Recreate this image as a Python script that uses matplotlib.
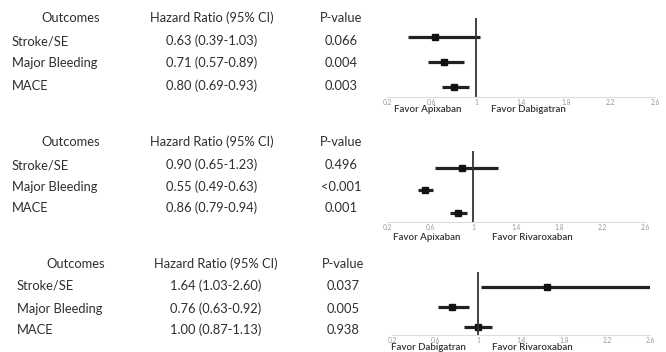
import matplotlib.pyplot as plt

plt.rcParams['font.family'] = ['Lato', 'DejaVu Sans']

# Data for the three comparisons
outcomes = ["Stroke/SE", "Major Bleeding", "MACE"]

hr_1 = [0.63, 0.71, 0.80]
lo_1 = [0.39, 0.57, 0.69]
hi_1 = [1.03, 0.89, 0.93]
p_1 = ["0.066", "0.004", "0.003"]

hr_2 = [0.90, 0.55, 0.86]
lo_2 = [0.65, 0.49, 0.79]
hi_2 = [1.23, 0.63, 0.94]
p_2 = ["0.496", "<0.001", "0.001"]

hr_3 = [1.64, 0.76, 1.00]
lo_3 = [1.03, 0.63, 0.87]
hi_3 = [2.60, 0.92, 1.13]
p_3 = ["0.037", "0.005", "0.938"]

favor_left = ["Favor Apixaban", "Favor Apixaban", "Favor Dabigatran"]
favor_right = ["Favor Dabigatran", "Favor Rivaroxaban", "Favor Rivaroxaban"]
ticks = [0.2, 0.6, 1, 1.4, 1.8, 2.2, 2.6]
tick_labels = ["0.2", "0.6", "1", "1.4", "1.8", "2.2", "2.6"]

W, H = 666, 352
fig = plt.figure(figsize=(W / 100, H / 100), dpi=100)
fig.patch.set_facecolor("white")


def fx(x):
    return x / W


def fy(y):
    return 1 - y / H


text_col = "#2e2e2e"
fs = 9.3

panels = [
    # hr, lo, hi, p, header_y, row_ys, label_x, hr_x, p_x, axes (left, right, top, bottom), favor_y, favor x
    (hr_1, lo_1, hi_1, p_1, 18, [41, 63, 86], 12, 212, 341, (387, 655, 18, 97), 110, (428, 528)),
    (hr_2, lo_2, hi_2, p_2, 142, [165, 187, 208], 12, 212, 341, (387, 645, 151, 222), 238, (427, 532)),
    (hr_3, lo_3, hi_3, p_3, 264, [286, 309, 330], 17, 216, 343, (392, 650, 272, 335), 348, (428, 532)),
]

for i, (hr, lo, hi, pv, hy, rys, lx, hx, px, box, fav_y, fav_x) in enumerate(panels):
    # table part
    fig.text(fx(lx + 59), fy(hy), "Outcomes", ha="center", va="center", fontsize=fs, color=text_col)
    fig.text(fx(hx), fy(hy), "Hazard Ratio (95% CI)", ha="center", va="center", fontsize=fs, color=text_col)
    fig.text(fx(px), fy(hy), "P-value", ha="center", va="center", fontsize=fs, color=text_col)
    for j in range(3):
        fig.text(fx(lx), fy(rys[j]), outcomes[j], ha="left", va="center", fontsize=fs, color=text_col)
        fig.text(fx(hx), fy(rys[j]), f"{hr[j]:.2f} ({lo[j]:.2f}-{hi[j]:.2f})",
                 ha="center", va="center", fontsize=fs, color=text_col)
        fig.text(fx(px), fy(rys[j]), pv[j], ha="center", va="center", fontsize=fs, color=text_col)

    # forest plot
    left, right, top, bottom = box
    ax = fig.add_axes([fx(left), fy(bottom), (right - left) / W, (bottom - top) / H])
    ypos = [3, 2, 1]
    for j in range(3):
        ax.plot([lo[j], hi[j]], [ypos[j], ypos[j]], color="#222222", lw=2.3, solid_capstyle="butt")
        ax.plot(hr[j], ypos[j], marker="s", color="#111111", markersize=4.8)
    ax.axvline(1, color="#333333", lw=1.3)
    ax.set_xlim(0.2, 2.6)
    ax.set_ylim(0.6, 3.75)
    ax.set_yticks([])
    ax.set_xticks(ticks)
    ax.set_xticklabels(tick_labels)
    ax.tick_params(axis="x", length=0, pad=1.5, labelsize=4.8, labelcolor="#9a9a9a")
    for s in ["top", "right", "left"]:
        ax.spines[s].set_visible(False)
    ax.spines["bottom"].set_color("#dddddd")
    ax.spines["bottom"].set_linewidth(0.8)
    ax.patch.set_alpha(0)

    fig.text(fx(fav_x[0]), fy(fav_y), favor_left[i], ha="center", va="center", fontsize=7,
             color="#333333", fontweight="semibold")
    fig.text(fx(fav_x[1]), fy(fav_y), favor_right[i], ha="center", va="center", fontsize=7,
             color="#333333", fontweight="semibold")

fig.savefig("out.png", dpi=100)
